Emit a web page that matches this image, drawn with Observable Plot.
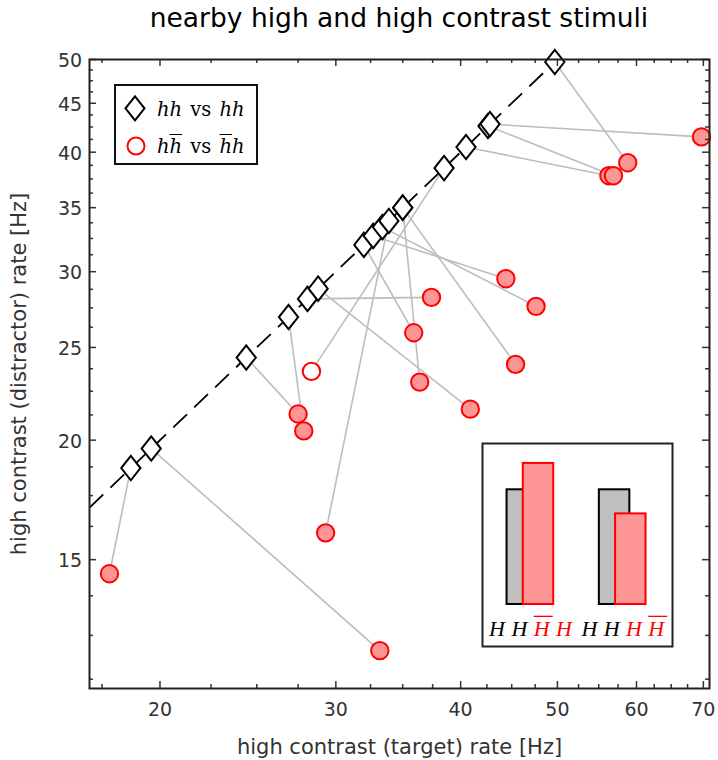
<!DOCTYPE html>
<html>
<head>
<meta charset="utf-8">
<script src="https://cdn.jsdelivr.net/npm/d3@7"></script>
<script src="https://cdn.jsdelivr.net/npm/@observablehq/plot@0.6"></script>
<style>
  body { margin: 0; background: #fff; }
  #wrap { position: relative; width: 718px; height: 760px; background: #fff; }
  #title { position: absolute; left: 89px; width: 620px; top: 4.6px; text-align: center;
           font-family: "DejaVu Sans", sans-serif; font-size: 26.5px; line-height: 26.5px; color: #000; white-space: nowrap; }
  #chart { position: absolute; left: 0; top: 40px; }
  #legend { position: absolute; left: 114px; top: 84px; width: 144px; height: 81px; box-sizing: border-box;
            border: 2px solid #111; background: #fff; }
  #legend svg { position: absolute; left: 0; top: 0; }
  .lt { position: absolute; left: 41px; font-family: "DejaVu Serif", serif; font-size: 19.5px; line-height: 19.5px;
        white-space: nowrap; word-spacing: 2px; color: #000; }
  .ob { text-decoration: overline; text-decoration-thickness: 1.3px; }
  #inset { position: absolute; left: 481px; top: 442px; }
</style>
</head>
<body>
<div id="wrap">
  <div id="title">nearby high and high contrast stimuli</div>
  <div id="chart"></div>
  <div id="legend">
    <svg width="140" height="77">
      <path d="M19,10.3 L28.5,22.3 L19,34.3 L9.5,22.3 Z" fill="#fff" stroke="#000" stroke-width="2"/>
      <circle cx="20" cy="60" r="8.5" fill="#fff" stroke="#ff0000" stroke-width="2"/>
    </svg>
    <div class="lt" style="top:13.5px"><i>hh</i> vs <i>hh</i></div>
    <div class="lt" style="top:50.5px"><i>h</i><i class="ob">h</i> vs <i class="ob">h</i><i>h</i></div>
  </div>
  <div id="inset"></div>
</div>
<script>
// ---------- data ----------
const xDomain = [17, 71];
const yDomain = [11, 50];
const xMajorTicks = [20, 30, 40, 50, 60, 70];
const xMinorTicks = [17.5, 22.5, 25, 27.5, 32.5, 35, 37.5, 42.5, 45, 47.5, 52.5, 55, 57.5, 62.5, 65, 67.5];
const yMajorTicks = [15, 20, 25, 30, 35, 40, 45, 50];
const yMinorTicks = [11.25, 12.5, 13.75, 16.25, 17.5, 18.75, 21.25, 22.5, 23.75, 26.25, 27.5, 28.75,
                     31.25, 32.5, 33.75, 36.25, 37.5, 38.75, 41.25, 42.5, 43.75, 46.25, 47.5, 48.75];

// hh vs hh rate (diamonds, same rate for target and distractor)
const hhRate = [18.7, 19.6, 24.4, 26.9, 28.1, 28.8, 32.0, 32.7, 33.4, 33.9, 35.0, 35.0, 38.5, 40.5, 42.6, 42.8, 49.7];
// paired h h̄ vs h̄ h rates (circles)
const targetRate     = [17.8, 33.2, 27.5, 27.86, 37.4, 40.9, 35.9, 44.4, 47.6, 29.3, 36.4, 45.4, 28.36, 56.3, 56.9, 69.7, 58.8];
const distractorRate = [14.5, 12.05, 21.3, 20.45, 28.2, 21.55, 25.9, 29.5, 27.6, 16.0, 23.0, 24.0, 23.6, 37.8, 37.8, 41.5, 39.0];
const openMarker     = [false, false, false, false, false, false, false, false, false, false, false, false, true, false, false, false, false];

// inset schematic
const insetGroups = ["HH vs H\u0305H", "HH vs HH\u0305"];
const insetRef  = [1, 1];
const insetSwap = [1.23, 0.79];
const insetLetters = ["H", "H", "H", "H"];
const insetLetterRed = [[false, false, true, true], [false, false, true, true]];
const insetLetterBar = [[false, false, true, false], [false, false, false, true]];

const xLabel = "high contrast (target) rate [Hz]";
const yLabel = "high contrast (distractor) rate [Hz]";

// ---------- main chart ----------
const pairs = hhRate.map((h, i) => ({hh: h, target: targetRate[i], distractor: distractorRate[i], open: openMarker[i]}));
const W = 718, H = 720, mT = 19, mB = 72, mL = 89, mR = 9;
const fH = H - mT - mB, fW = W - mL - mR;
const majorLen = 7, minorLen = 4;
const diagLo = Math.max(xDomain[0], yDomain[0]);
const diagHi = Math.min(xDomain[1], yDomain[1]);

const tallDiamond = {
  draw(ctx, size) {
    const r = Math.sqrt(size / Math.PI), h = r * 1.27;
    ctx.moveTo(0, -h); ctx.lineTo(r, 0); ctx.lineTo(0, h); ctx.lineTo(-r, 0); ctx.closePath();
  }
};

const tickStroke = "#333";
const chart = Plot.plot({
  width: W, height: H, marginTop: mT, marginBottom: mB, marginLeft: mL, marginRight: mR,
  x: {type: "log", domain: xDomain, label: null},
  y: {type: "log", domain: yDomain, label: null},
  style: {fontFamily: "DejaVu Sans, sans-serif", fontSize: "19px", color: "#333", background: "white", overflow: "visible"},
  marks: [
    Plot.link(pairs, {x1: "hh", y1: "hh", x2: "target", y2: "distractor", stroke: "#bdbdbd", strokeWidth: 1.6}),
    Plot.link([[diagLo, diagHi]], {x1: d => d[0], y1: d => d[0], x2: d => d[1], y2: d => d[1],
      stroke: "#000", strokeWidth: 1.8, strokeDasharray: "19,10"}),
    Plot.dot(pairs, {x: "hh", y: "hh", symbol: tallDiamond, r: 9.6, fill: "white", stroke: "#000", strokeWidth: 2}),
    Plot.dot(pairs.filter(d => !d.open), {x: "target", y: "distractor", r: 8.7, fill: "#ff9696", stroke: "#ff0000", strokeWidth: 2}),
    Plot.dot(pairs.filter(d => d.open), {x: "target", y: "distractor", r: 8.7, fill: "white", stroke: "#ff0000", strokeWidth: 2}),
    // inward ticks on all four sides
    Plot.ruleX(xMajorTicks, {x: d => d, insetTop: fH - majorLen, stroke: tickStroke, strokeWidth: 1.5}),
    Plot.ruleX(xMajorTicks, {x: d => d, insetBottom: fH - majorLen, stroke: tickStroke, strokeWidth: 1.5}),
    Plot.ruleX(xMinorTicks, {x: d => d, insetTop: fH - minorLen, stroke: tickStroke, strokeWidth: 1.5}),
    Plot.ruleX(xMinorTicks, {x: d => d, insetBottom: fH - minorLen, stroke: tickStroke, strokeWidth: 1.5}),
    Plot.ruleY(yMajorTicks, {y: d => d, insetRight: fW - majorLen, stroke: tickStroke, strokeWidth: 1.5}),
    Plot.ruleY(yMajorTicks, {y: d => d, insetLeft: fW - majorLen, stroke: tickStroke, strokeWidth: 1.5}),
    Plot.ruleY(yMinorTicks, {y: d => d, insetRight: fW - minorLen, stroke: tickStroke, strokeWidth: 1.5}),
    Plot.ruleY(yMinorTicks, {y: d => d, insetLeft: fW - minorLen, stroke: tickStroke, strokeWidth: 1.5}),
    Plot.axisX(xMajorTicks, {tickSize: 0, tickPadding: 13.5, tickFormat: d => String(d), label: null, fontSize: 19, fill: "#333"}),
    Plot.axisY(yMajorTicks, {tickSize: 0, tickPadding: 7.3, tickFormat: d => String(d), label: null, fontSize: 19, fill: "#333", dy: 1.5}),
    Plot.frame({stroke: "#222", strokeWidth: 2}),
    Plot.text([xLabel], {text: d => d, frameAnchor: "bottom", dy: 58.6, lineAnchor: "middle", textAnchor: "middle", fontSize: 21, fill: "#333"}),
    Plot.text([yLabel], {text: d => d, frameAnchor: "left", dx: -70.7, rotate: -90, lineAnchor: "middle", textAnchor: "middle", fontSize: 21, fill: "#333"})
  ]
});
document.getElementById("chart").appendChild(chart);

// ---------- inset ----------
const iW = 192, iH = 205;
const groupCenter1 = 49, groupStep = 92.3, barW = 30.5;
const pad = 1 - barW / groupStep;
const r0 = groupCenter1 - groupStep * pad - barW / 2;
const r1 = r0 + groupStep * (2 + pad);
const insetData = insetGroups.map((g, i) => ({group: g, ref: insetRef[i], swap: insetSwap[i]}));
const letterMarks = [];
insetGroups.forEach((g, gi) => {
  insetLetters.forEach((L, k) => {
    letterMarks.push(Plot.text([{group: g, letter: L}], {
      x: "group", text: "letter", frameAnchor: "bottom", dy: -19, dx: (k - 1.5) * 22.3, lineAnchor: "middle",
      fill: insetLetterRed[gi][k] ? "#ff0000" : "#000", fontSize: 22,
      fontFamily: "Liberation Serif, serif", fontStyle: "italic",
      ariaDescription: insetLetterBar[gi][k] ? "barred-letter" : "letter",
      ariaLabel: insetLetterBar[gi][k] ? "barred-letter" : "letter"
    }));
  });
});
const insetPlot = Plot.plot({
  width: iW, height: iH, margin: 0,
  x: {type: "band", domain: insetGroups, range: [r0, r1], padding: pad, round: false, axis: null},
  y: {domain: [0, 1], range: [162, 47.3], axis: null},
  style: {background: "white", overflow: "visible"},
  marks: [
    Plot.barY(insetData, {x: "group", y: "ref", dx: -8.2, fill: "#bfbfbf", stroke: "#000", strokeWidth: 2}),
    Plot.barY(insetData, {x: "group", y: "swap", dx: 8.0, fill: "#ff9696", stroke: "#ff0000", strokeWidth: 2}),
    ...letterMarks,
    Plot.frame({stroke: "#222", strokeWidth: 2, inset: 1})
  ]
});
document.getElementById("inset").appendChild(insetPlot);
// overline (bar) above the barred letters, drawn at the font ascent line
const barred = new Set();
insetPlot.querySelectorAll('[aria-label="barred-letter"], [aria-description="barred-letter"]').forEach(el => {
  if (el.tagName.toLowerCase() === "text") barred.add(el);
  else el.querySelectorAll("text").forEach(t => barred.add(t));
});
barred.forEach(t => {
  const bb = t.getBBox();
  const line = document.createElementNS("http://www.w3.org/2000/svg", "line");
  const yy = bb.y + 0.8;
  line.setAttribute("x1", bb.x + 1);
  line.setAttribute("x2", bb.x + bb.width + 2);
  line.setAttribute("y1", yy);
  line.setAttribute("y2", yy);
  line.setAttribute("stroke", "#ff0000");
  line.setAttribute("stroke-width", "1.3");
  const tr = t.getAttribute("transform");
  if (tr) line.setAttribute("transform", tr);
  t.parentNode.appendChild(line);
});
</script>
</body>
</html>
